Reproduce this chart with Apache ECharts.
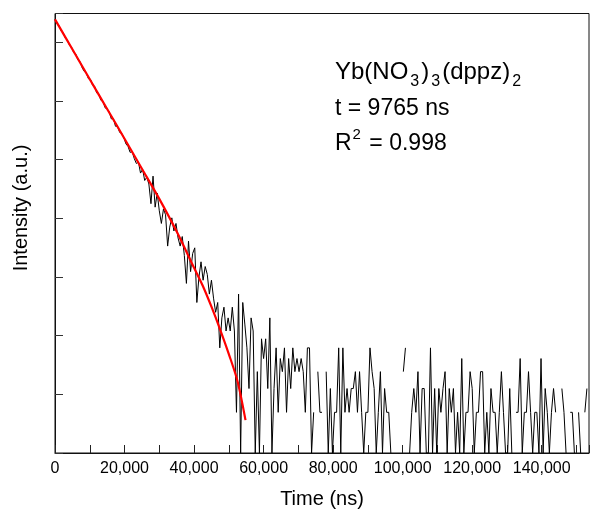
<!DOCTYPE html>
<html>
<head>
<meta charset="utf-8">
<script src="https://cdn.jsdelivr.net/npm/echarts@6/dist/echarts.min.js"></script>
<style>
html,body{margin:0;padding:0;background:#fff}
#chart{width:592px;height:514px}
</style>
</head>
<body>
<div id="chart"></div>
<script>
// decay data: one count per 600 ns channel, null = empty channel
var channelWidth = 600;
var decayCounts = [
  1625,1508,1450,1330,1281,1176,1131,1040,1002,918,
  895,810,790,712,668,650,590,583,528,518,
  462,452,408,401,359,352,334,297,298,262,
  261,236,232,216,194,186,168,170,151,139,
  142,118,126,104,110,98,70,112,66,84,
  62,50,64,58,34,47,55,44,50,39,
  34,40,29,18,37,22,30,33,13,20,
  26,19,24,21,15,19,14,11,13,6,
  10,12,8,10,8,12,8,2,15,1,
  13,9,6,3,10,8,1,4,1,7,
  5,7,3,10,1,3,6,2,5,4,
  6,2,5,3,6,4,5,4,5,4,
  2,6,6,1,2,null,4,2,2,null,
  4,1,3,1,2,2,6,1,6,2,
  3,2,3,3,4,2,4,2,1,2,
  2,6,4,3,1,2,4,1,3,2,
  2,1,null,null,null,null,null,4,6,null,
  1,2,3,2,4,1,3,3,1,1,
  6,1,3,1,3,2,3,4,1,3,
  2,3,1,2,1,5,1,2,2,4,
  3,1,2,2,4,4,1,2,1,3,
  2,2,1,2,4,2,1,1,3,1,
  null,2,2,5,1,2,2,4,2,1,
  2,2,1,5,1,3,2,1,2,3,
  2,null,null,3,2,1,null,2,2,1,
  null,2,1,null,2,3
];

// fitted curve
var fitTimes  = [0, 5000, 10000, 15000, 20000, 25000, 30000, 35000, 40000, 42500, 45000, 47500, 50000, 52500, 54800];
var fitValues = [1618, 973, 584, 352, 212, 127, 76, 43.5, 23.5, 17.3, 12.1, 8.2, 5.4, 3.4, 1.75];

var xMax = 153600;
var xLabelStep = 20000;
var yMax = 1790;

var fontName = 'Liberation Sans, Arial, sans-serif';

var decayData = [];
for (var i = 0; i < decayCounts.length; i++) {
  decayData.push([i * channelWidth, decayCounts[i] == null ? '-' : decayCounts[i]]);
}
var fitData = [];
for (var j = 0; j < fitTimes.length; j++) {
  fitData.push([fitTimes[j], fitValues[j]]);
}

function withCommas(v) {
  return String(v).replace(/\B(?=(\d{3})+(?!\d))/g, ',');
}

var myChart = echarts.init(document.getElementById('chart'));

var option = {
  animation: false,
  backgroundColor: '#fff',
  grid: {
    left: 55, top: 13.5, bottom: 59.5, right: -1,
    show: true, borderColor: '#111', borderWidth: 1, backgroundColor: 'transparent'
  },
  xAxis: {
    type: 'value',
    min: 0, max: xMax, interval: 10000,
    name: 'Time (ns)',
    nameLocation: 'middle',
    nameGap: 36,
    nameTextStyle: { fontSize: 20, color: '#000', fontFamily: fontName },
    axisLine: { show: true, lineStyle: { color: '#111', width: 1 } },
    axisTick: { show: true, inside: true, length: 8, lineStyle: { color: '#222' } },
    axisLabel: {
      fontSize: 16, color: '#000', fontFamily: fontName, margin: 8,
      formatter: function (v) { return v % xLabelStep === 0 ? withCommas(v) : ''; }
    },
    splitLine: { show: false }
  },
  yAxis: {
    type: 'log',
    logBase: Math.E,
    min: 1, max: yMax, interval: 1,
    axisLine: { show: true, lineStyle: { color: '#111', width: 1 } },
    axisTick: { show: true, inside: true, length: 8, lineStyle: { color: '#333' } },
    axisLabel: { show: false },
    splitLine: { show: false },
    minorTick: { show: false }
  },
  graphic: [
    {
      type: 'text', x: 21, y: 208, rotation: Math.PI / 2,
      style: { text: 'Intensity (a.u.)', fontSize: 20, fontFamily: fontName, fill: '#000', align: 'center', verticalAlign: 'middle' }
    },
    {
      type: 'text', x: 335, y: 72,
      style: {
        text: '{m|Yb(NO}{s|3}{m|)}{s|3}{m|(dppz)}{s|2}',
        verticalAlign: 'middle', fill: '#000',
        rich: {
          m: { fontSize: 24, fontFamily: fontName, fill: '#000' },
          s: { fontSize: 16, fontFamily: fontName, fill: '#000', padding: [20, 2, 0, 2] }
        }
      }
    },
    {
      type: 'text', x: 335, y: 109,
      style: { text: 't = 9765 ns', fontSize: 23, fontFamily: fontName, fill: '#000', verticalAlign: 'middle' }
    },
    {
      type: 'text', x: 335, y: 144,
      style: {
        text: '{m|R}{p|2}{m| = 0.998}',
        verticalAlign: 'middle', fill: '#000',
        rich: {
          m: { fontSize: 23, fontFamily: fontName, fill: '#000' },
          p: { fontSize: 15, fontFamily: fontName, fill: '#000', padding: [0, 2, 18, 1] }
        }
      }
    }
  ],
  series: [
    {
      name: 'decay',
      type: 'line',
      data: decayData,
      symbol: 'none',
      connectNulls: false,
      lineStyle: { color: '#000', width: 1 },
      z: 2
    },
    {
      name: 'fit',
      type: 'line',
      data: fitData,
      symbol: 'none',
      smooth: 0.3,
      lineStyle: { color: '#ff0000', width: 2.2 },
      z: 3
    }
  ]
};
myChart.setOption(option);
</script>
</body>
</html>
